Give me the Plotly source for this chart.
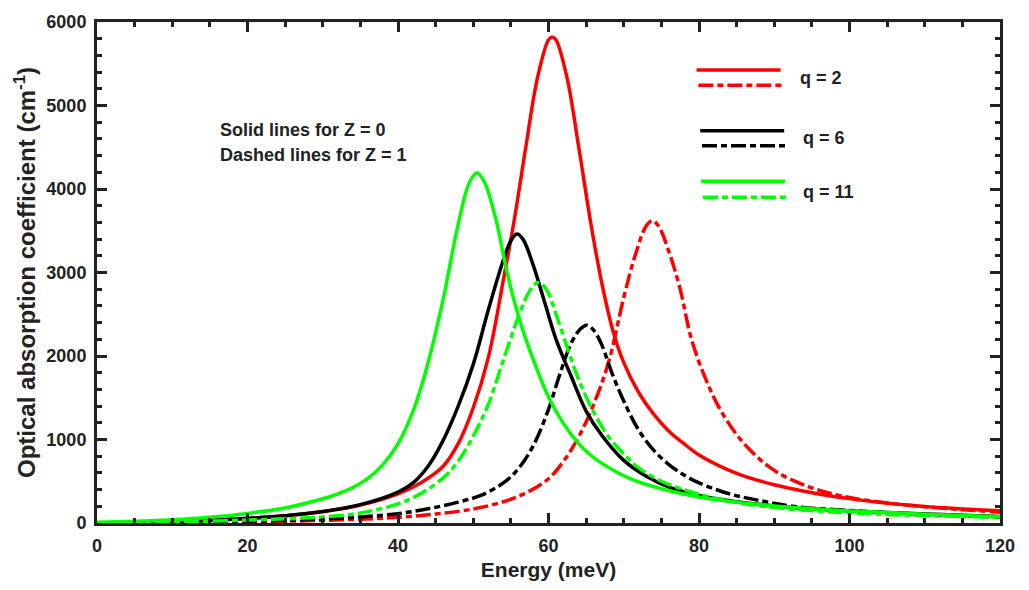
import plotly.graph_objects as go

# ---------------- data ----------------
# q = 2, Z = 0 (red solid)
E_q2_z0 = [0, 5, 10, 15, 20, 25, 30, 35, 40, 43, 46, 48, 50, 52, 54, 55.5, 57, 58.5, 60, 60.5,
           61, 62.5, 64, 65.6, 67, 68.6, 70, 72, 74, 76, 78, 80, 85, 90, 95, 100, 105, 110, 115, 120]
A_q2_z0 = [0, 7, 17, 32, 55, 88, 135, 215, 350, 480, 680, 950, 1380, 1980, 2910, 3656, 4512, 5317, 5786, 5820,
           5786, 5317, 4512, 3602, 2910, 2290, 1920, 1560, 1300, 1100, 950, 815, 595, 458, 363, 292, 238, 197, 168, 148]

# q = 2, Z = 1 (red dashed)
E_q2_z1 = [0, 5, 10, 15, 20, 25, 30, 35, 40, 45, 50, 54, 57, 60, 62, 64, 66, 68, 70, 71.5, 73, 73.8,
           74.6, 76, 77.5, 79, 81, 83, 86, 90, 95, 100, 105, 110, 115, 120]
A_q2_z1 = [0, 3, 6, 10, 15, 22, 31, 46, 68, 108, 168, 255, 360, 530, 740, 1030, 1420, 1930, 2700, 3200, 3560, 3620,
           3560, 3250, 2800, 2200, 1700, 1330, 950, 630, 420, 305, 240, 195, 160, 130]

# q = 6, Z = 0 (black solid)
E_q6_z0 = [0, 5, 10, 15, 20, 25, 30, 35, 40, 42, 44, 46, 48, 50, 52, 54, 55, 55.8, 56.6, 58, 59.5,
           61, 63, 65, 67, 70, 73, 76, 80, 85, 90, 95, 100, 105, 110, 115, 120]
A_q6_z0 = [0, 7, 16, 30, 56, 88, 138, 220, 370, 480, 680, 990, 1400, 1900, 2550, 3150, 3380, 3460, 3400, 3080, 2640,
           2200, 1760, 1340, 1060, 750, 560, 430, 330, 255, 205, 170, 145, 125, 108, 92, 78]

# q = 6, Z = 1 (black dashed)
E_q6_z1 = [0, 5, 10, 15, 20, 25, 30, 35, 40, 44, 48, 51, 54, 56, 58, 60, 61.5, 63, 64.2, 65.1, 66,
           67, 68.5, 70, 72, 74, 76, 78, 80, 84, 88, 93, 100, 106, 112, 120]
A_q6_z1 = [0, 4, 8, 14, 22, 32, 48, 72, 112, 170, 250, 330, 480, 650, 930, 1360, 1780, 2150, 2320, 2368, 2310,
           2150, 1780, 1460, 1110, 870, 700, 575, 480, 350, 270, 195, 150, 120, 95, 72]

# q = 11, Z = 0 (green solid)
E_q11_z0 = [0, 5, 10, 15, 20, 25, 30, 32, 34, 36, 38, 40, 42, 44, 46, 48, 49.5, 50.5, 51.5, 53, 54.5, 56, 58,
            60, 62, 64, 65.5, 67, 71, 75, 80, 85, 90, 95, 100, 105, 110, 115, 120]
A_q11_z0 = [10, 20, 38, 68, 115, 180, 290, 350, 425, 535, 700, 950, 1340, 1920, 2680, 3580, 4080, 4195, 4080, 3640, 3000,
            2480, 1950, 1510, 1190, 950, 820, 720, 525, 410, 312, 250, 205, 170, 145, 125, 105, 90, 75]

# q = 11, Z = 1 (green dashed)
E_q11_z1 = [0, 5, 10, 15, 20, 25, 30, 35, 40, 43, 46, 48, 50, 52, 54, 56, 57.5, 58.6, 59.7, 61, 62.5,
            64, 66, 68, 70, 72, 75, 78, 81, 85, 90, 95, 100, 105, 110, 115, 120]
A_q11_z1 = [0, 5, 12, 22, 35, 50, 72, 120, 230, 350, 540, 740, 1040, 1420, 1950, 2470, 2780, 2880, 2800, 2500, 2100,
            1720, 1330, 1030, 830, 660, 500, 400, 320, 245, 185, 148, 122, 102, 88, 78, 70]

x_ticks = [0, 20, 40, 60, 80, 100, 120]
y_ticks = [0, 1000, 2000, 3000, 4000, 5000, 6000]

RED = "#ff0000"
BLACK = "#000000"
GREEN = "#00ff00"
DASH = "15px,4px,6px,4px"
FONT = "Liberation Sans, Arial, sans-serif"
INK = "#222222"

series = [
    (E_q2_z0, A_q2_z0, RED, "solid", "q = 2, Z = 0"),
    (E_q2_z1, A_q2_z1, RED, DASH, "q = 2, Z = 1"),
    (E_q6_z0, A_q6_z0, BLACK, "solid", "q = 6, Z = 0"),
    (E_q6_z1, A_q6_z1, BLACK, DASH, "q = 6, Z = 1"),
    (E_q11_z0, A_q11_z0, GREEN, "solid", "q = 11, Z = 0"),
    (E_q11_z1, A_q11_z1, GREEN, DASH, "q = 11, Z = 1"),
]

fig = go.Figure()
for xs, ys, col, dash, name in series:
    fig.add_trace(go.Scatter(x=xs, y=ys, mode="lines", name=name,
                             line=dict(color=col, width=3.5, dash=dash, shape="spline", smoothing=1.0),
                             showlegend=False))

# legend drawn as in the reference (line samples + labels)
legend_rows = [
    (RED, 0.664, 0.757, 0.904, 0.666, 0.759, 0.874, 0.776, 0.889, "q = 2"),
    (BLACK, 0.668, 0.761, 0.783, 0.670, 0.763, 0.753, 0.780, 0.768, "q = 6"),
    (GREEN, 0.669, 0.762, 0.682, 0.671, 0.764, 0.650, 0.780, 0.660, "q = 11"),
]
for col, sx0, sx1, sy, dx0, dx1, dy, tx, ty, label in legend_rows:
    fig.add_shape(type="line", xref="paper", yref="paper", x0=sx0, x1=sx1, y0=sy, y1=sy,
                  line=dict(color=col, width=3.5))
    fig.add_shape(type="line", xref="paper", yref="paper", x0=dx0, x1=dx1, y0=dy, y1=dy,
                  line=dict(color=col, width=3.5, dash=DASH))
    fig.add_annotation(xref="paper", yref="paper", x=tx, y=ty, text=label, showarrow=False,
                       xanchor="left", yanchor="middle",
                       font=dict(family=FONT, size=18, color=INK, weight="bold"))

fig.add_annotation(xref="paper", yref="paper", x=0.134, y=0.785, text="Solid lines for Z = 0",
                   showarrow=False, xanchor="left", yanchor="middle",
                   font=dict(family=FONT, size=18, color=INK, weight="bold"))
fig.add_annotation(xref="paper", yref="paper", x=0.134, y=0.735, text="Dashed lines for Z = 1",
                   showarrow=False, xanchor="left", yanchor="middle",
                   font=dict(family=FONT, size=18, color=INK, weight="bold"))

axis_common = dict(
    showgrid=False, zeroline=False, showline=True, linewidth=3, linecolor=INK,
    mirror="ticks", ticks="inside", ticklen=10, tickwidth=3, tickcolor=INK,
    tickfont=dict(family=FONT, size=18, color=INK, weight="bold"),
)

fig.update_xaxes(
    range=[0, 120], tickvals=x_ticks, ticktext=[str(v) for v in x_ticks],
    minor=dict(dtick=5, ticks="inside", ticklen=5, tickwidth=2.5, tickcolor=INK),
    title=dict(text="Energy (meV)", font=dict(family=FONT, size=21, color=INK, weight="bold"), standoff=8),
    ticklabelstandoff=4,
    **axis_common,
)
fig.update_yaxes(
    range=[0, 6000], tickvals=y_ticks, ticktext=[str(v) for v in y_ticks],
    minor=dict(dtick=200, ticks="inside", ticklen=5, tickwidth=2.5, tickcolor=INK),
    title=dict(text="Optical absorption coefficient (cm<sup>-1</sup>)",
               font=dict(family=FONT, size=24, color=INK, weight="bold"), standoff=4),
    ticklabelstandoff=4,
    **axis_common,
)

fig.update_layout(
    width=1029, height=590,
    margin=dict(l=97, r=29, t=22, b=62),
    paper_bgcolor="white", plot_bgcolor="white",
    showlegend=False,
)

fig.write_html("out.html")
